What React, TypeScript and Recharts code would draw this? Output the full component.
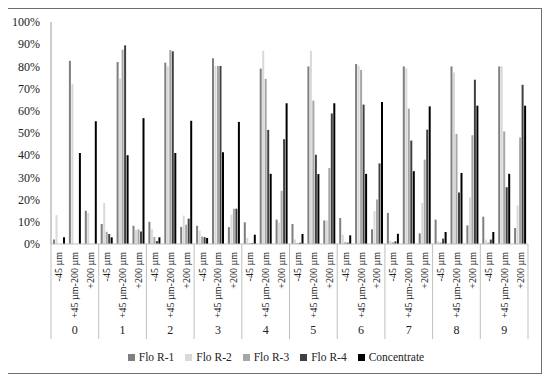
import React from 'react';
import { BarChart, Bar, XAxis, YAxis, Legend } from 'recharts';

const groups = ['0', '1', '2', '3', '4', '5', '6', '7', '8', '9'];
const sizeLabels = ['-45 µm', '+45 µm-200 µm', '+200 µm'];

// values per group: [-45, +45-200, +200]
const floR1 = [2, 82.5, 15, 9, 82, 8.2, 10, 81.7, 7.7, 8.2, 83.7, 7.6, 9.8, 79, 11, 9, 80, 10.6, 11.7, 81.1, 6.7, 14, 80, 4.8, 11, 80, 8.4, 12.3, 80, 7.2];
const floR2 = [13, 72, 14, 18.5, 74.5, 6.3, 6.7, 80, 12.8, 6, 80.2, 13.2, 2.8, 87, 9.7, 2, 87, 10.6, 4.2, 80.3, 14.8, 1.5, 79.2, 18.5, 1.2, 77.2, 21, 2, 80, 17.4];
const floR3 = [0, 0, 0, 5.5, 87.5, 6.6, 3.2, 87.4, 8.7, 3.4, 80.2, 15.9, 0.4, 74.4, 24, 0.4, 64.6, 34.2, 0.8, 78.4, 20, 0.8, 61, 38, 0.7, 49.6, 49, 0.7, 50.7, 48];
const floR4 = [0, 0, 0, 4.5, 89.5, 5.6, 1.3, 86.8, 11.4, 3.1, 80.2, 15.9, 0.4, 51.4, 47.2, 0.6, 40.2, 58.8, 0.6, 62.8, 36.3, 1.2, 46.6, 51.5, 2.4, 23.2, 74, 2, 25.6, 71.7];
const concentrate = [3, 41, 55.3, 3, 40, 56.7, 3, 41, 55.5, 2.7, 41.3, 55, 4.2, 31.6, 63.4, 4.5, 31.5, 63.4, 3.9, 31.6, 64, 4.6, 32.8, 62, 5.4, 32, 62.3, 5.4, 31.6, 62.3];
const yTicks = [0, 10, 20, 30, 40, 50, 60, 70, 80, 90, 100];

const seriesNames = ['Flo R-1', 'Flo R-2', 'Flo R-3', 'Flo R-4', 'Concentrate'];
const seriesColors = ['#7f7f7f', '#d9d9d9', '#a6a6a6', '#404040', '#000000'];
const seriesKeys = ['r1', 'r2', 'r3', 'r4', 'conc'];

const data = groups.flatMap((g, gi) =>
  sizeLabels.map((s, si) => {
    const i = gi * 3 + si;
    return {
      key: `${g}|${s}`,
      group: g,
      size: s,
      r1: floR1[i],
      r2: floR2[i],
      r3: floR3[i],
      r4: floR4[i],
      conc: concentrate[i],
    };
  })
);

const FONT = "'Liberation Serif', 'Times New Roman', serif";

const CategoryTick = (props: any) => {
  const { x, y, payload, index } = props;
  const band = payload && payload.offset ? payload.offset * 2 : 15.9;
  const [group, size] = String(payload.value).split('|');
  const si = index % 3;
  const sepTop = y;
  const sepBottom = y + 95;
  return (
    <g>
      <text
        x={x}
        y={y + 8}
        transform={`rotate(-90, ${x}, ${y + 8})`}
        textAnchor="end"
        dy="0.35em"
        fontSize={10}
        fontFamily={FONT}
        fill="#222"
      >
        {size}
      </text>
      {si === 1 && (
        <text x={x} y={y + 90} textAnchor="middle" fontSize={12} fontFamily={FONT} fill="#222">
          {group}
        </text>
      )}
      {si === 0 && (
        <line x1={x - band / 2} x2={x - band / 2} y1={sepTop} y2={sepBottom} stroke="#bfbfbf" strokeWidth={1} />
      )}
      {si === 2 && index === data.length - 1 && (
        <line x1={x + band / 2} x2={x + band / 2} y1={sepTop} y2={sepBottom} stroke="#bfbfbf" strokeWidth={1} />
      )}
    </g>
  );
};

const LegendContent = () => (
  <div
    style={{
      display: 'flex',
      justifyContent: 'center',
      alignItems: 'center',
      paddingLeft: 16,
      lineHeight: '20px',
    }}
  >
    {seriesNames.map((n, i) => (
      <span
        key={n}
        style={{
          display: 'inline-flex',
          alignItems: 'center',
          marginRight: i < seriesNames.length - 1 ? 11 : 0,
          fontFamily: FONT,
          fontSize: 11.5,
          color: '#222',
        }}
      >
        <span style={{ display: 'inline-block', width: 7, height: 7, background: seriesColors[i], marginRight: 4 }} />
        <span style={{ fontFamily: FONT }}>{n}</span>
      </span>
    ))}
  </div>
);

export default function App() {
  return (
    <div
      style={{
        width: 535,
        height: 366,
        border: '1px solid #6e6e6e',
        boxSizing: 'border-box',
        marginLeft: -1,
        background: '#fff',
      }}
    >
      <BarChart
        width={533}
        height={364}
        data={data}
        margin={{ top: 13, right: 13, left: 0, bottom: 6 }}
        barSize={2}
        barGap={0.5}
      >
        <XAxis
          dataKey="key"
          interval={0}
          tick={<CategoryTick />}
          tickLine={false}
          tickSize={0}
          tickMargin={0}
          height={103}
          axisLine={{ stroke: '#bfbfbf' }}
        />
        <XAxis
          xAxisId="top"
          orientation="top"
          dataKey="key"
          tick={false}
          tickLine={false}
          height={0}
          axisLine={{ stroke: '#404040' }}
        />
        <YAxis
          domain={[0, 100]}
          ticks={yTicks}
          tickFormatter={(v: number) => `${v}%`}
          width={43}
          tickLine={false}
          tickSize={8}
          tickMargin={3}
          axisLine={{ stroke: '#9a9a9a' }}
          tick={{ fontSize: 12, fontFamily: FONT, fill: '#222' }}
          interval={0}
        />
        <YAxis
          yAxisId="right"
          orientation="right"
          domain={[0, 100]}
          tick={false}
          tickLine={false}
          width={0}
          axisLine={{ stroke: '#6e6e6e' }}
        />
        <Legend verticalAlign="bottom" height={20} content={<LegendContent />} />
        {seriesKeys.map((k, i) => (
          <Bar key={k} dataKey={k} name={seriesNames[i]} fill={seriesColors[i]} isAnimationActive={false} />
        ))}
      </BarChart>
    </div>
  );
}
